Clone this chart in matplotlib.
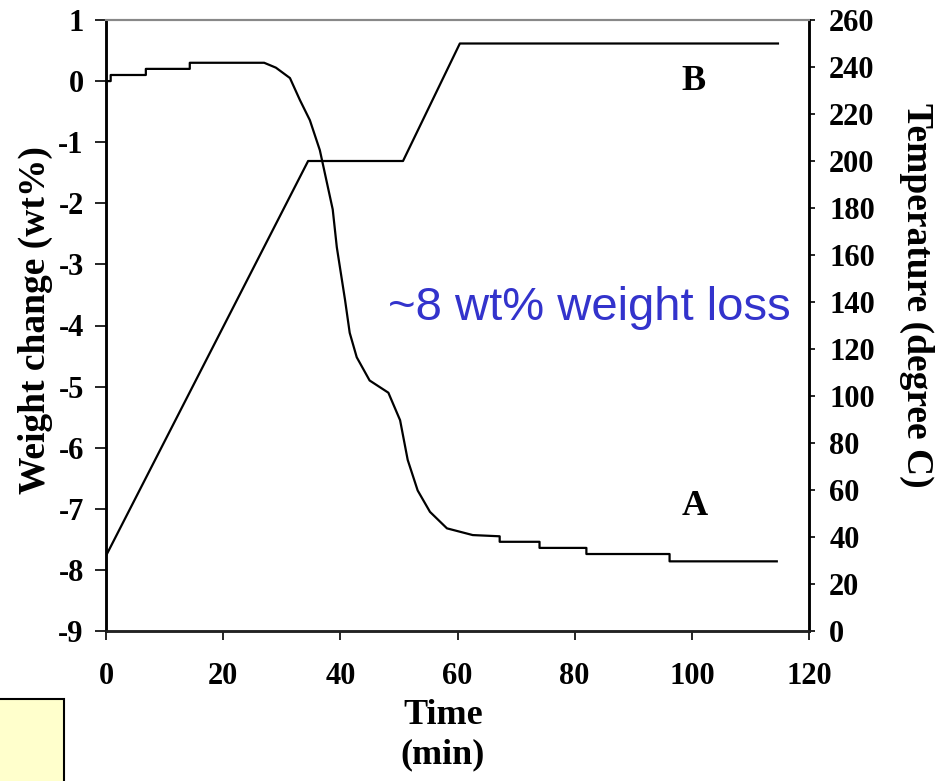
"""
TGA run: weight change (A) and furnace temperature (B) against time.
Rebuilt with matplotlib, twin y-axes, serif bold labels.
"""

import matplotlib

matplotlib.use("Agg")
import matplotlib.pyplot as plt
from matplotlib.patches import Rectangle

# ── Data ─────────────────────────────────────────────────────────────────────
# Curve A: weight change, wt%  (left axis)
WEIGHT_T = [0, 0.8, 0.8, 6.8, 6.8, 14.3, 14.3, 27.0, 29.0, 31.4, 33.1, 34.8,
            36.5, 37.0, 38.7, 39.4, 40.8, 41.6, 42.8, 45.0, 48.2, 50.2, 51.5,
            53.2, 55.3, 58.2, 62.6, 67.2, 67.2, 74.0, 74.0, 82.0, 82.0, 96.2,
            96.2, 114.5]
WEIGHT_W = [0.0, 0.0, 0.1, 0.1, 0.2, 0.2, 0.3, 0.3, 0.22, 0.05, -0.31, -0.64,
            -1.13, -1.35, -2.1, -2.72, -3.58, -4.12, -4.52, -4.9, -5.1, -5.55,
            -6.2, -6.7, -7.05, -7.32, -7.43, -7.45, -7.54, -7.54, -7.64, -7.64,
            -7.74, -7.74, -7.86, -7.86]

# Curve B: temperature program, degree C  (right axis)
TEMP_T = [0, 34.5, 50.7, 60.4, 114.7]
TEMP_C = [32, 200, 200, 250, 250]

X_TICKS = [0, 20, 40, 60, 80, 100, 120]
LEFT_TICKS = [1, 0, -1, -2, -3, -4, -5, -6, -7, -8, -9]
RIGHT_TICKS = list(range(0, 261, 20))

SERIF = "Liberation Serif"
NOTE_BLUE = "#3333cc"

plt.rcParams["axes.unicode_minus"] = False
plt.rcParams["font.family"] = SERIF
plt.rcParams["font.weight"] = "bold"

W_PX, H_PX = 943, 781
fig = plt.figure(figsize=(W_PX / 100, H_PX / 100), dpi=100)

# axes box in pixels: left 106, right 809, top 20, bottom 631
ax = fig.add_axes([106 / W_PX, 1 - 631 / H_PX, (809 - 106) / W_PX, (631 - 20) / H_PX])
ax2 = ax.twinx()

# ── Curves ──────────────────────────────────────────────────────────────────
ax.plot(WEIGHT_T, WEIGHT_W, color="black", lw=1.6)
ax2.plot(TEMP_T, TEMP_C, color="black", lw=1.6)

ax.set_xlim(0, 120)
ax.set_ylim(-9, 1)
ax2.set_ylim(0, 260)

ax.set_xticks(X_TICKS)
ax.set_yticks(LEFT_TICKS)
ax2.set_yticks(RIGHT_TICKS)

# ── Spines & ticks ──────────────────────────────────────────────────────────
for a in (ax, ax2):
    a.spines["top"].set_color("#888888")
    a.spines["top"].set_linewidth(1.5)
    a.spines["bottom"].set_color("#222222")
    a.spines["left"].set_linewidth(1.8)
    a.spines["right"].set_linewidth(1.8)
    a.spines["bottom"].set_linewidth(1.8)

ax.tick_params(axis="x", direction="out", length=6.5, width=1.2, pad=16,
               labelsize=22)
ax.tick_params(axis="y", direction="out", length=8, width=1.2, pad=8,
               labelsize=22)
ax2.tick_params(axis="y", direction="out", length=4.5, width=1.2, pad=10,
                labelsize=22)

# ── Curve tags and note ─────────────────────────────────────────────────────
ax.text(100.2, 0.0, "B", fontsize=26, ha="center", va="center")
ax.text(100.5, -6.96, "A", fontsize=26, ha="center", va="center")
ax.text(388 / W_PX, 1 - 308 / H_PX, "~8 wt% weight loss",
        transform=fig.transFigure, fontsize=34, color=NOTE_BLUE,
        family="Liberation Sans", weight="normal", ha="left", va="center")

# ── Axis titles placed in figure pixels ─────────────────────────────────────
fig.text(35 / W_PX, 1 - 320 / H_PX, "Weight change (wt%)", rotation=90,
         fontsize=27, ha="center", va="center")
fig.text(917 / W_PX, 1 - 295 / H_PX, "Temperature (degree C)", rotation=270,
         fontsize=27, ha="center", va="center")
fig.text(443 / W_PX, 1 - 716 / H_PX, "Time", fontsize=26, ha="center", va="center")
fig.text(443 / W_PX, 1 - 755 / H_PX, "(min)", fontsize=26, ha="center", va="center")

# pale yellow box clipped at the bottom-left corner
fig.patches.append(Rectangle((-0.01, -0.01), 64 / W_PX + 0.01, (H_PX - 699) / H_PX + 0.01,
                             transform=fig.transFigure, facecolor="#ffffcc",
                             edgecolor="black", lw=1.5))

fig.savefig("out.png", dpi=100)
